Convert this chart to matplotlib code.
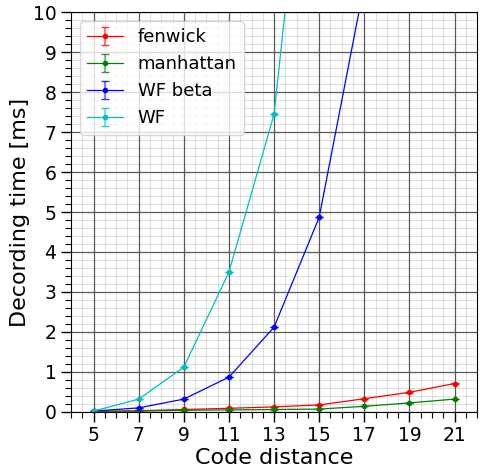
import matplotlib
matplotlib.use("Agg")
import matplotlib.pyplot as plt
from matplotlib.ticker import MultipleLocator

distances = [5, 7, 9, 11, 13, 15, 17, 19, 21]
fenwick = [0.01, 0.03, 0.06, 0.09, 0.125, 0.175, 0.33, 0.49, 0.71]
manhattan = [0.01, 0.02, 0.04, 0.05, 0.06, 0.07, 0.14, 0.225, 0.32]
wf_beta_d = [5, 7, 9, 11, 13, 15, 17]
wf_beta = [0.02, 0.10, 0.32, 0.87, 2.12, 4.87, 10.7]
wf_d = [5, 7, 9, 11, 13, 15]
wf = [0.02, 0.32, 1.12, 3.5, 7.45, 18.0]
xticks = [5, 7, 9, 11, 13, 15, 17, 19, 21]

fig = plt.figure(figsize=(4.8, 4.67), dpi=100)
ax = fig.add_axes([0.148, 0.118, 0.846, 0.856])

series = [
    (distances, fenwick, "r", "fenwick"),
    (distances, manhattan, "g", "manhattan"),
    (wf_beta_d, wf_beta, "b", "WF beta"),
    (wf_d, wf, "c", "WF"),
]
for xs, ys, c, lab in series:
    cont = ax.errorbar(xs, ys, yerr=[0.005] * len(ys), color=c, marker=".",
                       markersize=6, linewidth=0.9, capsize=3, elinewidth=1.5,
                       label=lab)
    for bar in cont[2]:
        bar.set_alpha(0.5)
    for cap in cont[1]:
        cap.set_alpha(0.8)

ax.set_xlim(4, 22)
ax.set_ylim(0, 10)
ax.set_xticks(xticks)
ax.xaxis.set_minor_locator(MultipleLocator(0.5))
ax.yaxis.set_major_locator(MultipleLocator(1))
ax.yaxis.set_minor_locator(MultipleLocator(0.2))
ax.grid(which="major", color="0.35", linewidth=0.9)
ax.grid(which="minor", color="k", alpha=0.13, linewidth=0.7)
ax.set_axisbelow(True)
ax.tick_params(which="major", length=7, width=1, labelsize=13.5)
ax.tick_params(which="minor", length=4, width=0.8)
ax.set_xlabel("Code distance", fontsize=16, labelpad=2)
ax.set_ylabel("Decording time [ms]", fontsize=16, labelpad=2)
ax.legend(loc="upper left", fontsize=13)

fig.savefig("out.png", dpi=100)
